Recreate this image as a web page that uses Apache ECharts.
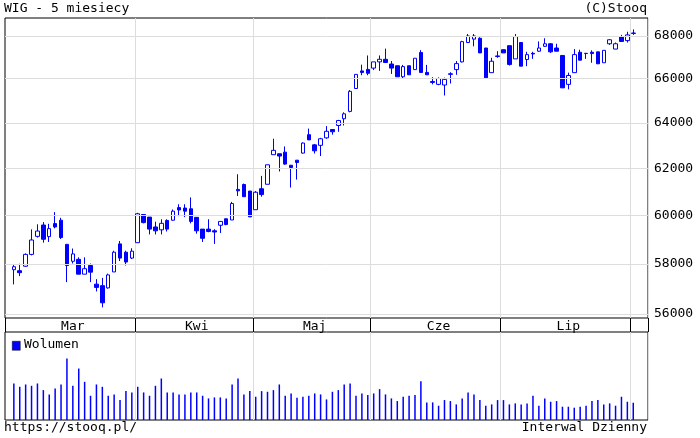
<!DOCTYPE html>
<html>
<head>
<meta charset="utf-8">
<script src="https://cdn.jsdelivr.net/npm/echarts@6/dist/echarts.min.js"></script>
<style>html,body{margin:0;padding:0;background:#fff}#main{width:700px;height:438px}</style>
</head>
<body>
<div id="main"></div>
<script>
// WIG, daily candles: [open, close, low, high]
var monthNames = ['Mar', 'Kwi', 'Maj', 'Cze', 'Lip', 'Sie']
var monthDays = [21, 20, 20, 22, 22, 1]
var priceTicks = [56000, 58000, 60000, 62000, 64000, 66000, 68000]

var opens = [57760,57720,57900,58380,59120,59590,59110,59650,59790,58790,58100,58180,57580,57930,57180,57120,57030,57670,58810,58470,58230,
  58860,60030,59920,59510,59390,59780,59790,60320,60300,60270,59910,59420,59420,59350,59580,59850,59800,61090,61300,61020,
  60230,61120,61310,62590,62630,62700,62130,62350,62660,63470,63020,63000,63330,63700,63880,64180,64510,65550,66360,66430,
  66490,66780,66900,66680,66600,66090,66600,66420,67220,66290,65870,65740,65710,66200,66420,66780,67690,67850,67890,67430,66280,67060,
  67350,67540,66920,67690,66890,67180,67280,67510,67630,67430,67080,65740,66280,67230,67180,67230,67250,66740,67630,67380,67970,67780,
  68120]
var closes = [57880,57640,58380,58970,59340,59000,59440,59510,59070,57930,58400,57580,57800,57660,57050,56440,57550,58470,58230,58070,58510,
  60060,59690,59420,59350,59660,59420,60170,60220,60170,59740,59350,59040,59320,59300,59740,59610,60490,61030,60780,59930,
  60970,60870,62150,62780,62530,62180,62030,62250,63100,63240,62760,63290,63620,63600,64100,64400,65420,66200,66290,66250,
  66780,66900,66750,66490,66090,66560,66180,66950,66290,66180,65830,66010,65970,66230,66700,67730,68000,68000,67200,66040,66810,67030,
  67200,66660,67970,66580,67120,67150,67430,67630,67250,67280,65580,66150,67120,66860,67170,67170,66690,67320,67820,67630,67740,68050,
  68140]
var lows = [57170,57500,57880,58340,59070,58860,58890,59450,59010,57260,58010,57580,57580,57260,56890,56260,57000,57670,58110,57930,58190,
  58860,59660,59200,59200,59200,59320,59770,59960,59920,59660,59230,58890,59290,58810,59260,59580,59800,60810,60780,59930,
  60230,60780,61310,62590,61860,62150,61170,61510,62640,63240,62640,62530,63290,63470,63600,63880,64470,65550,66160,66160,
  66400,66360,66750,66220,66090,66000,66180,66420,66290,66180,65740,65700,65230,65780,66180,66750,67660,67510,67200,66040,66280,66970,
  67200,66610,66920,66580,66580,66920,67250,67480,67200,67280,65580,65510,66280,66860,66920,66740,66690,66740,67580,67380,67740,67690,
  68050]
var highs = [57970,58000,58420,59410,59620,59710,59640,60130,59890,58810,58620,58260,58260,58010,57380,57430,57600,58530,58930,58530,58630,
  60100,60030,59920,59730,59830,59830,60240,60460,60460,60750,59910,59420,59830,59420,59740,59860,60560,61740,61340,61020,
  61020,61670,62150,63290,62630,62950,62130,62350,63130,63740,63060,63330,63850,63700,64130,64470,65480,66200,66650,67080,
  66780,67080,67400,66820,66600,66640,66600,66950,67330,66640,66070,66060,66050,66300,66820,67770,68090,68090,67940,67430,66970,67280,
  67350,67540,68090,67690,67250,67250,67740,67890,67660,67630,67080,66280,67380,67350,67200,67320,67250,67320,67850,67690,68050,68200,
  68310]
var volumes = [110,100,107,103,110,90,77,95,107,185,103,155,115,73,107,100,73,77,60,87,83,100,83,73,103,125,83,83,77,77,
  83,83,73,65,68,68,65,107,125,77,87,70,87,85,90,107,73,80,67,70,73,80,77,62,85,90,107,110,73,80,
  75,80,93,77,65,57,70,73,75,117,53,53,43,60,57,47,65,83,77,60,43,47,60,60,47,50,47,50,73,43,
  65,55,57,40,40,37,40,43,57,60,47,50,43,70,55,52]

// one empty slot before the first session, two after the last
var padLeft = 1, padRight = 2
var categories = ['pad-0']
var starts = {}, mids = {}
var k = padLeft
monthDays.forEach(function (n, m) {
    var first = (m === 0) ? 0 : k
    starts[first] = true
    if (n > 3) mids[k + Math.floor(n / 2)] = true
    for (var i = 0; i < n; i++) categories.push(monthNames[m] + '-' + i)
    k += n
})
for (var p = 0; p < padRight; p++) categories.push('pad-' + (p + 1))

var candles = ['-'], vols = ['-']
for (var i = 0; i < opens.length; i++) {
    candles.push([Math.log(opens[i]), Math.log(closes[i]), Math.log(lows[i]), Math.log(highs[i])])
    vols.push(volumes[i])
}
var grids = priceTicks.map(function (v) {
    return { yAxis: Math.log(v), name: String(v) }
})

var mono = 'DejaVu Sans Mono'
var chart = echarts.init(document.getElementById('main'))
var option = {
    animation: false,
    textStyle: { fontFamily: mono },
    grid: [
        { left: 5, right: 52, top: 18, height: 300, show: true, borderColor: '#000', borderWidth: 1 },
        { left: 5, right: 52, top: 332, bottom: 18, show: true, borderColor: '#000', borderWidth: 1 }
    ],
    xAxis: [
        {
            type: 'category', gridIndex: 0, data: categories,
            axisLine: { show: false },
            axisTick: { show: true, length: 14, interval: function (i) { return !!starts[i] }, lineStyle: { color: '#000' } },
            axisLabel: {
                interval: function (i) { return !!mids[i] },
                formatter: function (v) { return v.split('-')[0] },
                color: '#000', fontSize: 13, margin: 2, fontFamily: mono
            },
            splitLine: { show: true, interval: function (i) { return !!starts[i] && i > 0 }, lineStyle: { color: '#ddd' } }
        },
        {
            type: 'category', gridIndex: 1, data: categories,
            axisLine: { show: false }, axisTick: { show: false }, axisLabel: { show: false },
            splitLine: { show: true, interval: function (i) { return !!starts[i] && i > 0 }, lineStyle: { color: '#ddd' } }
        }
    ],
    yAxis: [
        {
            type: 'value', gridIndex: 0, position: 'right', scale: true,
            min: Math.log(55844), max: Math.log(68858),
            axisLine: { show: false }, axisTick: { show: false }, axisLabel: { show: false }, splitLine: { show: false }
        },
        {
            type: 'value', gridIndex: 1, min: 0, max: 265,
            axisLine: { show: false }, axisTick: { show: false }, axisLabel: { show: false }, splitLine: { show: false }
        }
    ],
    series: [
        {
            type: 'candlestick', xAxisIndex: 0, yAxisIndex: 0, data: candles,
            barWidth: 4,
            itemStyle: { color: '#fff', color0: '#0000ff', borderColor: '#0000ff', borderColor0: '#0000ff', borderWidth: 1 },
            markLine: {
                silent: true, symbol: 'none', animation: false, precision: 6,
                lineStyle: { color: '#ddd', type: 'solid', width: 1 },
                label: { position: 'end', distance: 6, color: '#000', fontSize: 13, fontFamily: mono, formatter: '{b}' },
                data: grids
            }
        },
        {
            type: 'bar', xAxisIndex: 1, yAxisIndex: 1, data: vols, barWidth: 1.5,
            itemStyle: { color: '#0000ff' }
        }
    ],
    graphic: [
        { type: 'text', left: 4, top: 2, style: { text: 'WIG - 5 miesiecy', font: '13px ' + mono, fill: '#000' } },
        { type: 'text', right: 53, top: 2, style: { text: '(C)Stooq', font: '13px ' + mono, fill: '#000' } },
        { type: 'text', left: 4, top: 421, style: { text: 'https://stooq.pl/', font: '13px ' + mono, fill: '#000' } },
        { type: 'text', right: 53, top: 421, style: { text: 'Interwal Dzienny', font: '13px ' + mono, fill: '#000' } },
        { type: 'rect', left: 12, top: 341, shape: { width: 8, height: 9 }, style: { fill: '#0000ff', stroke: '#000', lineWidth: 0.5 } },
        { type: 'text', left: 24, top: 338, style: { text: 'Wolumen', font: '13px ' + mono, fill: '#000' } }
    ]
}
chart.setOption(option)
</script>
</body>
</html>
